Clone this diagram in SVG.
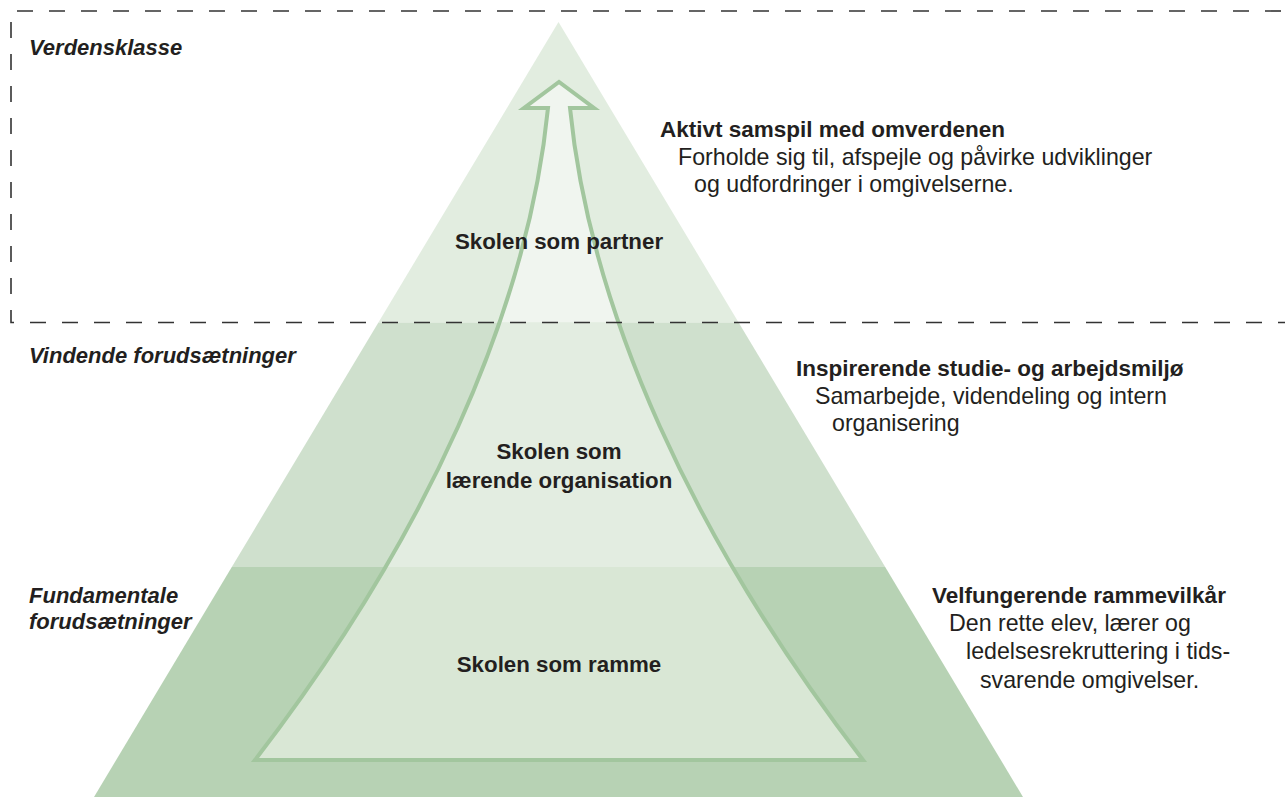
<svg xmlns="http://www.w3.org/2000/svg" width="1285" height="797" viewBox="0 0 1285 797">
<style>
text{font-family:"Liberation Sans",Arial,sans-serif;font-size:23.2px;fill:#231f20}
.b{font-weight:bold;font-size:22.5px}
.bi{font-weight:bold;font-style:italic;font-size:22px}
.c{text-anchor:middle;font-size:22.3px}
.dash{fill:none;stroke:#333;stroke-width:1.6}
</style>
<defs>
<clipPath id="cTop"><rect x="0" y="0" width="1285" height="322.5"/></clipPath>
<clipPath id="cMid"><rect x="0" y="322.5" width="1285" height="244.5"/></clipPath>
<clipPath id="cBot"><rect x="0" y="567" width="1285" height="230"/></clipPath>
<path id="arrowShape" d="M255,760 C426,538 528,310 548,108 L524,108 L559,82 L594,108 L570,108 C590,310 692,538 863,760 Z"/>
</defs>
<rect width="1285" height="797" fill="#fff"/>
<g id="pyramid">
<polygon points="558.5,22 378.4,322.5 738.6,322.5" fill="#e2ede0"/>
<polygon points="378.4,322.5 738.6,322.5 885.2,567 231.8,567" fill="#cfe0cd"/>
<polygon points="231.8,567 885.2,567 1023,797 94,797" fill="#b7d2b4"/>
</g>
<g id="connectors">
<use href="#arrowShape" fill="#f0f5ef" clip-path="url(#cTop)"/>
<use href="#arrowShape" fill="#e3ede1" clip-path="url(#cMid)"/>
<use href="#arrowShape" fill="#d9e7d5" clip-path="url(#cBot)"/>
<use href="#arrowShape" fill="none" stroke="#a2c69e" stroke-width="4" stroke-linejoin="miter"/>
</g>
<g id="frame">
<path class="dash" d="M17,11 H1285" stroke-dasharray="16 16"/>
<path class="dash" d="M11,22 V294" stroke-dasharray="16 16"/>
<path class="dash" d="M11,310 V322.5 H14"/>
<path class="dash" d="M30,322.5 H1285" stroke-dasharray="16 16"/>
</g>
<g id="level-verdensklasse">
<text class="bi" x="29" y="55">Verdensklasse</text>
</g>
<g id="level-vindende">
<text class="bi" x="29" y="363">Vindende forudsætninger</text>
</g>
<g id="level-fundamentale">
<text class="bi" x="29" y="603">Fundamentale</text>
<text class="bi" x="29" y="629">forudsætninger</text>
</g>
<g id="tier-partner">
<text class="b c" x="559" y="249">Skolen som partner</text>
</g>
<g id="tier-laerende">
<text class="b c" x="559" y="459">Skolen som</text>
<text class="b c" x="559" y="488">lærende organisation</text>
</g>
<g id="tier-ramme">
<text class="b c" x="559" y="672">Skolen som ramme</text>
</g>
<g id="desc-omverdenen">
<text class="b" x="660" y="137">Aktivt samspil med omverdenen</text>
<text x="678" y="165">Forholde sig til, afspejle og påvirke udviklinger</text>
<text x="694" y="192">og udfordringer i omgivelserne.</text>
</g>
<g id="desc-miljoe">
<text class="b" x="796" y="376">Inspirerende studie- og arbejdsmiljø</text>
<text x="815" y="404">Samarbejde, videndeling og intern</text>
<text x="832" y="431">organisering</text>
</g>
<g id="desc-rammevilkaar">
<text class="b" x="932" y="603">Velfungerende rammevilkår</text>
<text x="949" y="631">Den rette elev, lærer og</text>
<text x="966" y="659">ledelsesrekruttering i tids-</text>
<text x="980" y="688">svarende omgivelser.</text>
</g>
</svg>
